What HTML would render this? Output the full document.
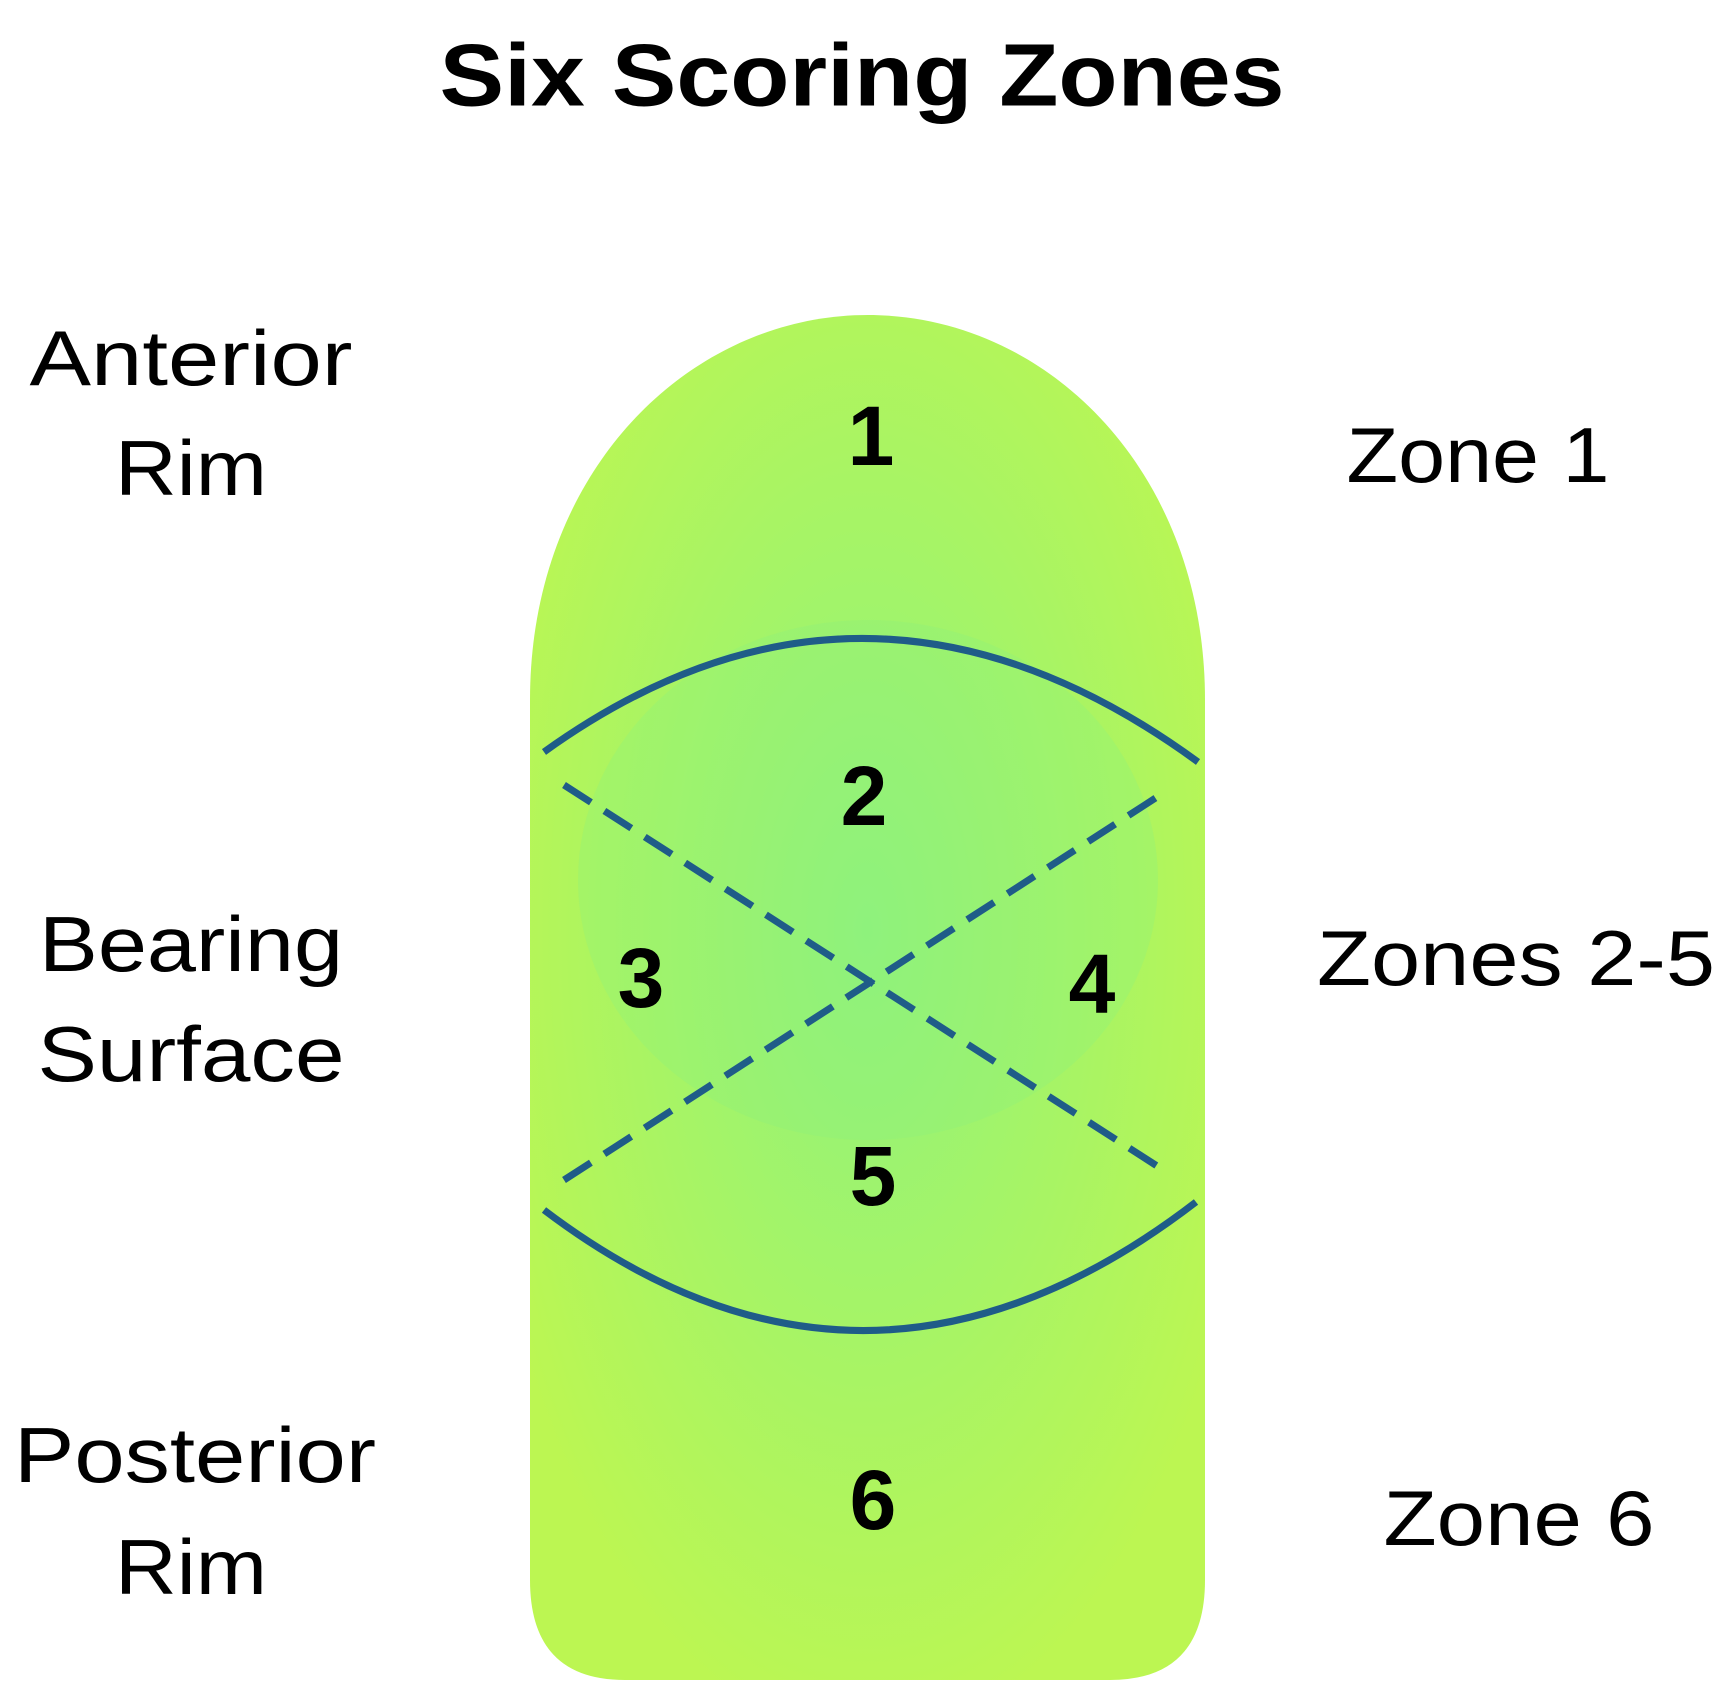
<!DOCTYPE html>
<html><head><meta charset="utf-8"><style>
html,body{margin:0;padding:0;background:#fff}
svg{display:block}
</style></head><body>
<svg width="1724" height="1702" viewBox="0 0 1724 1702" xmlns="http://www.w3.org/2000/svg">
<defs>
<radialGradient id="g" cx="0.5" cy="0.45" r="0.6">
<stop offset="0" stop-color="#90f27c"/>
<stop offset="0.5" stop-color="#a6f466"/>
<stop offset="1" stop-color="#bcf652"/>
</radialGradient>
</defs>
<path d="M530,700 C530,470 690,315 868,315 C1046,315 1205,470 1205,700 L1205,1580 Q1205,1680 1110,1680 L625,1680 Q530,1680 530,1580 Z" fill="url(#g)"/>
<ellipse cx="868" cy="880" rx="290" ry="260" fill="#8cf27e" opacity="0.3"/>
<g fill="none" stroke="#1f5c88" stroke-width="7">
<path d="M544,752 Q867,520 1198,762"/>
<path d="M544,1210 Q867,1455 1196,1202"/>
<g stroke-dasharray="32,16">
<line x1="564" y1="785" x2="1168" y2="1173"/>
<line x1="564" y1="1180" x2="1168" y2="790"/>
</g>
</g>
<g font-family="Liberation Sans, sans-serif" text-anchor="middle" dominant-baseline="central">
<text x="862" y="75" font-size="88" font-weight="bold" textLength="845" lengthAdjust="spacingAndGlyphs">Six Scoring Zones</text>
<g font-size="84" font-weight="bold">
<text x="871" y="436">1</text>
<text x="864" y="796">2</text>
<text x="641" y="978">3</text>
<text x="1092" y="984">4</text>
<text x="873" y="1176">5</text>
<text x="873" y="1500">6</text>
</g>
<g font-size="78" lengthAdjust="spacingAndGlyphs">
<text x="191" y="358" textLength="323" lengthAdjust="spacingAndGlyphs">Anterior</text>
<text x="191" y="468" textLength="152" lengthAdjust="spacingAndGlyphs">Rim</text>
<text x="191" y="944" textLength="304" lengthAdjust="spacingAndGlyphs">Bearing</text>
<text x="191" y="1054" textLength="307" lengthAdjust="spacingAndGlyphs">Surface</text>
<text x="195" y="1455" textLength="362" lengthAdjust="spacingAndGlyphs">Posterior</text>
<text x="191" y="1567" textLength="152" lengthAdjust="spacingAndGlyphs">Rim</text>
<text x="1478" y="455" textLength="263" lengthAdjust="spacingAndGlyphs">Zone 1</text>
<text x="1516" y="958" textLength="398" lengthAdjust="spacingAndGlyphs">Zones 2-5</text>
<text x="1519" y="1518" textLength="271" lengthAdjust="spacingAndGlyphs">Zone 6</text>
</g>
</g>
</svg>
</body></html>
